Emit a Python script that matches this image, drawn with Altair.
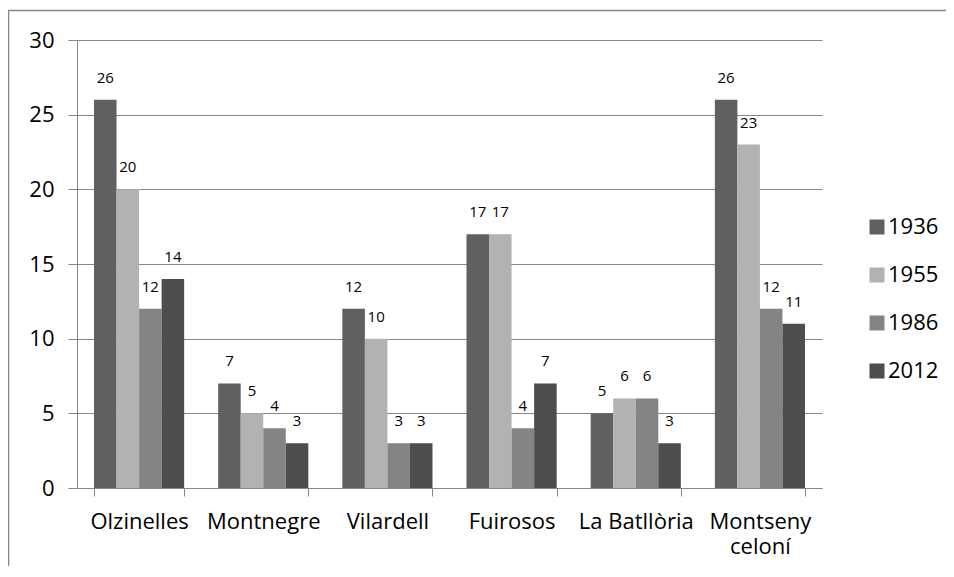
import altair as alt
import pandas as pd

categories = ["Olzinelles", "Montnegre", "Vilardell", "Fuirosos", "La Batllòria", "Montseny celoní"]
years = ["1936", "1955", "1986", "2012"]
v1936 = [26, 7, 12, 17, 5, 26]
v1955 = [20, 5, 10, 17, 6, 23]
v1986 = [12, 4, 3, 4, 6, 12]
v2012 = [14, 3, 3, 7, 3, 11]
colors = ["#606060", "#b2b2b2", "#848484", "#4d4d4d"]
y_ticks = [0, 5, 10, 15, 20, 25, 30]

rows = []
for yr, vals in zip(years, [v1936, v1955, v1986, v2012]):
    for c, v in zip(categories, vals):
        rows.append({"site": c, "year": yr, "value": v})
df = pd.DataFrame(rows)

FONT = "Open Sans"
GRAY = "#868686"

x_enc = alt.X(
    "site:N",
    sort=categories,
    title=None,
    scale=alt.Scale(paddingInner=0.274, paddingOuter=0.137),
    axis=alt.Axis(
        labelAngle=0,
        labelFont=FONT,
        labelFontSize=22,
        labelColor="black",
        labelPadding=15,
        labelLineHeight=25,
        labelExpr="datum.label == 'Montseny celoní' ? ['Montseny', 'celoní'] : datum.label",
        tickBand="extent",
        tickSize=8,
        tickColor=GRAY,
        domainColor=GRAY,
    ),
)
xoff = alt.XOffset("year:N", sort=years, scale=alt.Scale(paddingInner=0, paddingOuter=0))
y_enc = alt.Y(
    "value:Q",
    scale=alt.Scale(domain=[0, 30]),
    axis=alt.Axis(
        values=y_ticks,
        title=None,
        grid=True,
        gridColor=GRAY,
        tickSize=9,
        tickColor=GRAY,
        domainColor=GRAY,
        labelFont=FONT,
        labelFontSize=22,
        labelColor="black",
        labelPadding=14,
    ),
)

base = alt.Chart(df)
bars = base.mark_bar().encode(
    x=x_enc,
    xOffset=xoff,
    y=y_enc,
    color=alt.Color(
        "year:N",
        sort=years,
        scale=alt.Scale(domain=years, range=colors),
        legend=alt.Legend(
            title=None,
            orient="none",
            legendX=789,
            legendY=176,
            symbolType="square",
            symbolSize=225,
            symbolStrokeWidth=0,
            labelFont=FONT,
            labelFontSize=22,
            labelColor="black",
            labelOffset=0,
            rowPadding=26,
            padding=0,
        ),
    ),
)
labels = base.mark_text(dy=-22, font=FONT, fontSize=15, color="black", baseline="middle").encode(
    x=x_enc, xOffset=xoff, y=y_enc, text="value:Q"
)

frame = alt.Chart(alt.Data(values=[{}])).mark_rule(color=GRAY, strokeWidth=1.5)
left = frame.encode(x=alt.value(-68.5), y=alt.value(-30), y2=alt.value(530))
top = frame.encode(x=alt.value(-69), x2=alt.value(880), y=alt.value(-29.5))

chart = (
    alt.layer(bars, labels, left, top)
    .properties(
        width=745,
        height=448,
        autosize=alt.AutoSizeParams(type="none"),
        padding={"left": 69, "top": 32, "right": 124, "bottom": 78},
        background="white",
    )
    .configure_view(stroke=None)
)

chart.save("out.html", embed_options={"renderer": "svg", "actions": False})
